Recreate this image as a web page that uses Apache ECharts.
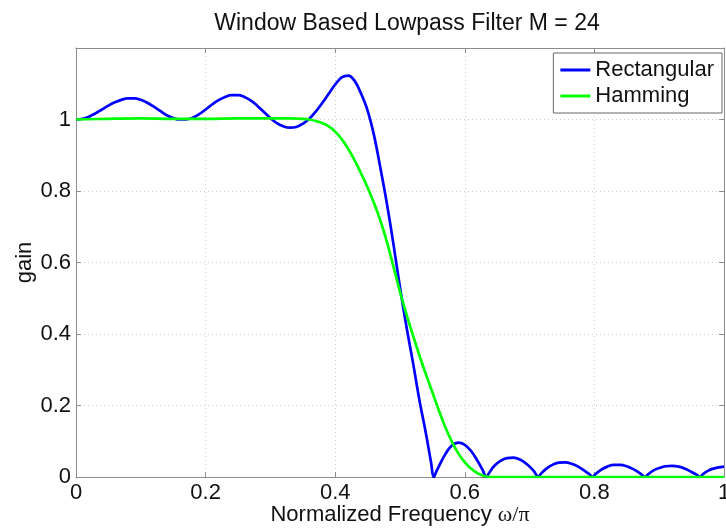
<!DOCTYPE html>
<html>
<head>
<meta charset="utf-8">
<title>Window Based Lowpass Filter</title>
<script src="https://cdn.jsdelivr.net/npm/echarts@6/dist/echarts.min.js"></script>
<style>
html,body{margin:0;padding:0;background:#fff;}
#main{width:726px;height:528px;}
</style>
</head>
<body>
<div id="main"></div>
<script>
// valeurs (frequence normalisee / gain)
var rectFreq = [0, 0.01, 0.02, 0.03, 0.04, 0.05, 0.06, 0.07, 0.08, 0.09,
	0.10, 0.11, 0.12, 0.13, 0.14, 0.15, 0.16, 0.17, 0.18, 0.19,
	0.20, 0.21, 0.22, 0.23, 0.24, 0.25, 0.26, 0.27, 0.28, 0.29,
	0.30, 0.31, 0.32, 0.33, 0.34, 0.35, 0.36, 0.37, 0.38, 0.39,
	0.40, 0.41, 0.42, 0.43, 0.44, 0.45, 0.46, 0.47, 0.48, 0.49,
	0.50, 0.51, 0.52, 0.53, 0.54, 0.548, 0.552, 0.556, 0.56, 0.57,
	0.58, 0.59, 0.60, 0.61, 0.62, 0.628, 0.633, 0.637, 0.645, 0.655,
	0.665, 0.675, 0.685, 0.695, 0.705, 0.709, 0.713, 0.717, 0.725, 0.735,
	0.745, 0.755, 0.765, 0.775, 0.785, 0.793, 0.797, 0.801, 0.81, 0.82,
	0.83, 0.84, 0.85, 0.86, 0.87, 0.874, 0.878, 0.882, 0.89, 0.90,
	0.91, 0.92, 0.93, 0.94, 0.95, 0.959, 0.963, 0.967, 0.975, 0.985, 1.0];
var rectGain = [1.000, 1.002, 1.008, 1.017, 1.028, 1.039, 1.048, 1.055, 1.059, 1.059,
	1.055, 1.047, 1.036, 1.024, 1.012, 1.004, 1.000, 1.000, 1.005, 1.015,
	1.028, 1.042, 1.054, 1.063, 1.068, 1.068, 1.063, 1.053, 1.038, 1.021,
	1.004, 0.990, 0.981, 0.977, 0.979, 0.988, 1.002, 1.022, 1.046, 1.072,
	1.098, 1.118, 1.123, 1.108, 1.072, 1.025, 0.955, 0.862, 0.762, 0.650,
	0.530, 0.420, 0.320, 0.215, 0.122, 0.040, 0.000, 0.015, 0.030, 0.064,
	0.088, 0.096, 0.090, 0.072, 0.044, 0.018, 0.000, 0.010, 0.030, 0.045,
	0.053, 0.054, 0.049, 0.037, 0.020, 0.010, 0.000, 0.008, 0.022, 0.034,
	0.040, 0.041, 0.037, 0.029, 0.017, 0.007, 0.000, 0.007, 0.020, 0.029,
	0.034, 0.034, 0.030, 0.022, 0.011, 0.005, 0.000, 0.006, 0.017, 0.025,
	0.030, 0.031, 0.029, 0.023, 0.014, 0.005, 0.000, 0.007, 0.017, 0.024, 0.029];

var hammFreq = [0, 0.05, 0.10, 0.15, 0.20, 0.25, 0.30, 0.33, 0.35, 0.36,
	0.37, 0.38, 0.39, 0.40, 0.41, 0.42, 0.43, 0.44, 0.45, 0.46,
	0.47, 0.48, 0.49, 0.50, 0.51, 0.52, 0.53, 0.54, 0.55, 0.56,
	0.57, 0.58, 0.59, 0.60, 0.61, 0.62, 0.63, 0.64, 0.70, 0.80, 0.90, 1.0];
var hammGain = [1.000, 1.002, 1.003, 1.002, 1.002, 1.003, 1.003, 1.003, 1.002, 1.000,
	0.996, 0.990, 0.981, 0.966, 0.945, 0.918, 0.886, 0.849, 0.810, 0.766,
	0.716, 0.656, 0.588, 0.518, 0.455, 0.396, 0.340, 0.287, 0.237, 0.186,
	0.139, 0.099, 0.066, 0.041, 0.023, 0.010, 0.003, 0.000, 0.000, 0.000, 0.000, 0.000];

var legendNames = ['Rectangular', 'Hamming'];

function pairs(fx, gy){
	var out = [];
	for (var i = 0; i < fx.length; i++) {
		out.push([fx[i], gy[i]]);
	}
	return out;
}

var axisGray = '#8c8c8c';
var fontTxt = 'Liberation Sans, Arial, Helvetica, sans-serif';

var myChart = echarts.init(document.getElementById('main'));

var option = {
	backgroundColor: '#fff',
	animation: false,
	title: {
		text: 'Window Based Lowpass Filter M = 24',
		left: 402,
		top: 7,
		textAlign: 'center',
		textStyle: {fontFamily: fontTxt, fontSize: 23, fontWeight: 'normal', color: '#111'}
	},
	legend: {
		data: legendNames,
		orient: 'vertical',
		right: 4,
		top: 53,
		padding: [5, 8, 5, 7],
		itemGap: 2,
		itemWidth: 30,
		itemHeight: 3,
		icon: 'rect',
		borderColor: '#666',
		borderWidth: 1,
		backgroundColor: '#fff',
		textStyle: {fontFamily: fontTxt, fontSize: 22, color: '#111', lineHeight: 24}
	},
	grid: {left: 76, right: 2, top: 48, bottom: 51, containLabel: false, outerBoundsMode: 'none'},
	xAxis: [{
		type: 'value',
		min: 0, max: 1, interval: 0.2,
		name: 'Normalized Frequency {s|ω/π}',
		nameLocation: 'middle',
		nameGap: 27,
		nameMoveOverlap: false,
		nameTextStyle: {
			fontFamily: fontTxt, fontSize: 22, color: '#111',
			rich: {s: {fontFamily: 'Liberation Serif, DejaVu Serif, serif', fontSize: 22, color: '#111'}}
		},
		axisLine: {onZero: false, lineStyle: {color: axisGray}},
		axisTick: {inside: true, length: 5, lineStyle: {color: axisGray}},
		axisLabel: {fontFamily: fontTxt, fontSize: 22, color: '#111', margin: 5},
		splitLine: {show: true, lineStyle: {color: '#cfcfcf', type: [1, 3]}}
	}, {
		type: 'value',
		position: 'top',
		min: 0, max: 1, interval: 0.2,
		axisLine: {show: true, onZero: false, lineStyle: {color: axisGray}},
		axisTick: {inside: true, length: 5, lineStyle: {color: axisGray}},
		axisLabel: {show: false},
		splitLine: {show: false}
	}],
	yAxis: [{
		type: 'value',
		min: 0, max: 1.2, interval: 0.2,
		name: 'gain',
		nameLocation: 'middle',
		nameGap: 40,
		nameMoveOverlap: false,
		nameTextStyle: {fontFamily: fontTxt, fontSize: 22, color: '#111'},
		axisLine: {show: true, onZero: false, lineStyle: {color: axisGray}},
		axisTick: {inside: true, length: 5, lineStyle: {color: axisGray}},
		axisLabel: {
			fontFamily: fontTxt, fontSize: 22, color: '#111', margin: 5,
			formatter: function(v){ return v > 1.0001 ? '' : String(+v.toFixed(1)); }
		},
		splitLine: {show: true, lineStyle: {color: '#cfcfcf', type: [1, 3]}}
	}, {
		type: 'value',
		position: 'right',
		min: 0, max: 1.2, interval: 0.2,
		axisLine: {show: true, onZero: false, lineStyle: {color: axisGray}},
		axisTick: {inside: true, length: 5, lineStyle: {color: axisGray}},
		axisLabel: {show: false},
		splitLine: {show: false}
	}],
	series: [{
		name: legendNames[0],
		type: 'line',
		data: pairs(rectFreq, rectGain),
		showSymbol: false,
		smooth: 0.4,
		itemStyle: {color: '#0000ff'},
		lineStyle: {color: '#0000ff', width: 2.7}
	}, {
		name: legendNames[1],
		type: 'line',
		data: pairs(hammFreq, hammGain),
		showSymbol: false,
		smooth: 0.4,
		itemStyle: {color: '#00ff00'},
		lineStyle: {color: '#00ff00', width: 2.7}
	}]
};

myChart.setOption(option);
</script>
</body>
</html>
